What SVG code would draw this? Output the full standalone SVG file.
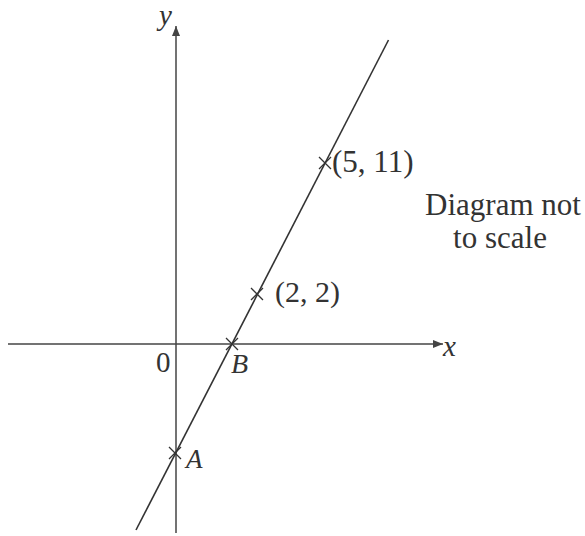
<svg xmlns="http://www.w3.org/2000/svg" width="585" height="536" viewBox="0 0 585 536">
<style>
.ax{stroke:#444;stroke-width:1.5;fill:none}
.ln{stroke:#333;stroke-width:1.6;fill:none}
.cr{stroke:#333;stroke-width:1.3;fill:none}
.t{font-family:'Liberation Serif','DejaVu Serif',serif;font-size:31px;fill:#333}
.i{font-style:italic}
</style>
<defs>
<marker id="arr" viewBox="0 0 10 8" refX="10" refY="4" markerWidth="10" markerHeight="8" markerUnits="userSpaceOnUse" orient="auto">
<path d="M0,0 L10,4 L0,8 z" fill="#444"/>
</marker>
</defs>
<rect width="585" height="536" fill="#fff"/>
<g id="axes">
<line class="ax" x1="8" y1="344" x2="443" y2="344" marker-end="url(#arr)"/>
<line class="ax" x1="176" y1="533" x2="176" y2="26" marker-end="url(#arr)"/>
<text class="t i" x="159" y="25" style="font-size:29px">y</text>
<text class="t i" x="443" y="356" style="font-size:29px">x</text>
<text class="t" x="156" y="372" style="font-size:29px">0</text>
</g>
<g id="connectors">
<line class="ln" x1="388.5" y1="40" x2="136" y2="530"/>
</g>
<g id="pointA">
<path class="cr" d="M169,447 L181,459 M181,447 L169,459"/>
<text class="t i" x="186" y="468" style="font-size:27px">A</text>
</g>
<g id="pointB">
<path class="cr" d="M226,338 L238,350 M238,338 L226,350"/>
<text class="t i" x="231" y="373" style="font-size:28px">B</text>
</g>
<g id="point22">
<path class="cr" d="M251,288 L263,300 M263,288 L251,300"/>
<text class="t" x="275" y="302" style="font-size:30px">(2, 2)</text>
</g>
<g id="point511">
<path class="cr" d="M319,157 L331,169 M331,157 L319,169"/>
<text class="t" x="332" y="172">(5, 11)</text>
</g>
<g id="note">
<text class="t" x="503" y="215" text-anchor="middle">Diagram not</text>
<text class="t" x="500" y="248" text-anchor="middle">to scale</text>
</g>
</svg>
